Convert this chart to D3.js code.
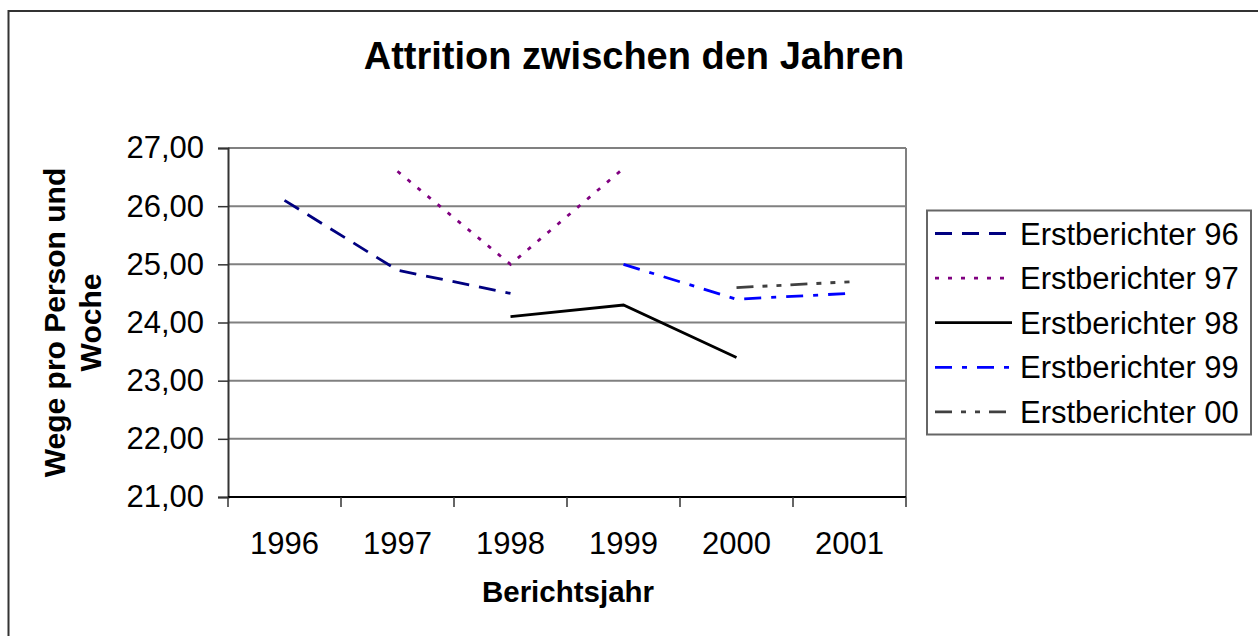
<!DOCTYPE html>
<html>
<head>
<meta charset="utf-8">
<script src="https://cdn.jsdelivr.net/npm/d3@7/dist/d3.min.js"></script>
<style>
  html, body { margin: 0; padding: 0; background: #fff; }
  svg { display: block; font-family: "Liberation Sans", Arial, sans-serif; }
</style>
</head>
<body>
<svg id="chart" width="1258" height="636"></svg>
<script>
// ---- data ----
const years = ["1996", "1997", "1998", "1999", "2000", "2001"];
const yTicks = [21, 22, 23, 24, 25, 26, 27];
const seriesNames = ["Erstberichter 96", "Erstberichter 97", "Erstberichter 98", "Erstberichter 99", "Erstberichter 00"];
const e96 = [26.1, 24.9, 24.5, null, null, null];
const e97 = [null, 26.6, 25.0, 26.65, null, null];
const e98 = [null, null, 24.1, 24.3, 23.4, null];
const e99 = [null, null, null, 25.0, 24.4, 24.5];
const e00 = [null, null, null, null, 24.6, 24.7];
const seriesValues = [e96, e97, e98, e99, e00];

const styles = [
  { color: "#000080", dash: "17,10" },
  { color: "#800080", dash: "4,9" },
  { color: "#000000", dash: null },
  { color: "#0000FF", dash: "17,10,5,10" },
  { color: "#404040", dash: "17,9,5,9,5,9" }
];

const svg = d3.select("#chart");

// outer border
svg.append("rect").attr("x", 8.5).attr("y", 11).attr("width", 1270).attr("height", 650)
  .attr("fill", "none").attr("stroke", "#333").attr("stroke-width", 2);

const L = 228, R = 906, T = 148, B = 497;
const x = d3.scaleBand().domain(years).range([L, R]);
const y = d3.scaleLinear().domain([21, 27]).range([B, T]);

// gridlines
svg.append("g").selectAll("line").data(yTicks.filter(d => d > 21)).join("line")
  .attr("x1", L).attr("x2", R).attr("y1", d => y(d)).attr("y2", d => y(d))
  .attr("stroke", "#808080").attr("stroke-width", 2);

// right border
svg.append("line").attr("x1", R).attr("x2", R).attr("y1", T).attr("y2", B)
  .attr("stroke", "#808080").attr("stroke-width", 2);

// y axis
const yAxis = d3.axisLeft(y).tickValues(yTicks).tickSize(10).tickPadding(14)
  .tickFormat(d => d3.format(".2f")(d).replace(".", ","));
const gy = svg.append("g").attr("transform", `translate(${L},0)`).call(yAxis);
gy.select(".domain").attr("stroke", "#333").attr("stroke-width", 2);
gy.selectAll(".tick line").attr("stroke", "#333").attr("stroke-width", 1.5);
gy.selectAll(".tick text").attr("font-size", 31).attr("fill", "#000")
  .attr("font-family", "Liberation Sans, Arial, sans-serif");

// x axis
const xAxis = d3.axisBottom(x).tickSize(0).tickPadding(0);
const gx = svg.append("g").attr("transform", `translate(0,${B})`).call(xAxis);
gx.select(".domain").attr("stroke", "#000").attr("stroke-width", 2).attr("d", `M${L},0H${R}`);
gx.selectAll(".tick text").attr("font-size", 31).attr("fill", "#000")
  .attr("dy", null).attr("y", 57)
  .attr("font-family", "Liberation Sans, Arial, sans-serif");
// x tick marks at band boundaries
const bounds = years.map(d => x(d)).concat([R]);
svg.append("g").selectAll("line").data(bounds).join("line")
  .attr("x1", d => d).attr("x2", d => d).attr("y1", B).attr("y2", B + 10)
  .attr("stroke", "#333").attr("stroke-width", 1.5);

// lines
const line = d3.line()
  .defined(d => d.v != null)
  .x(d => x(d.year) + x.bandwidth() / 2)
  .y(d => y(d.v));

seriesValues.forEach((vals, i) => {
  const data = vals.map((v, j) => ({ year: years[j], v }));
  svg.append("path").datum(data).attr("d", line)
    .attr("fill", "none").attr("stroke", styles[i].color).attr("stroke-width", 2.8)
    .attr("stroke-dasharray", styles[i].dash);
});

// title
svg.append("text").attr("x", 634).attr("y", 69).attr("text-anchor", "middle")
  .attr("font-size", 38).attr("font-weight", "bold").text("Attrition zwischen den Jahren");

// x axis title
svg.append("text").attr("x", 568).attr("y", 602).attr("text-anchor", "middle")
  .attr("font-size", 29.5).attr("font-weight", "bold").text("Berichtsjahr");

// y axis title (two lines)
const cy = (T + B) / 2;
svg.append("text").attr("transform", `translate(65,${cy}) rotate(-90)`).attr("text-anchor", "middle")
  .attr("font-size", 30).attr("font-weight", "bold").text("Wege pro Person und");
svg.append("text").attr("transform", `translate(101,${cy}) rotate(-90)`).attr("text-anchor", "middle")
  .attr("font-size", 30).attr("font-weight", "bold").text("Woche");

// legend
svg.append("rect").attr("x", 927).attr("y", 210.5).attr("width", 324).attr("height", 224)
  .attr("fill", "#fff").attr("stroke", "#666").attr("stroke-width", 2);
const lg = svg.append("g");
seriesNames.forEach((name, i) => {
  const ly = 233.5 + i * 44.6;
  lg.append("line").attr("x1", 935).attr("x2", 1012).attr("y1", ly).attr("y2", ly)
    .attr("stroke", styles[i].color).attr("stroke-width", 2.8)
    .attr("stroke-dasharray", styles[i].dash);
  lg.append("text").attr("x", 1020).attr("y", ly + 11).attr("font-size", 31).text(name);
});
</script>
</body>
</html>
